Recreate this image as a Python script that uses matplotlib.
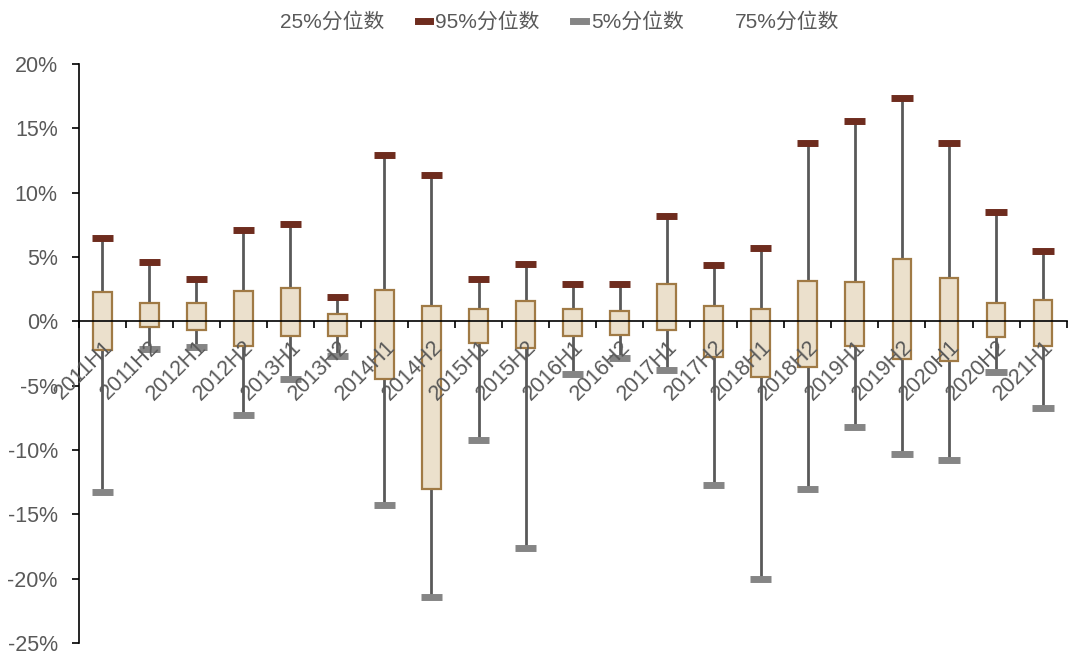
import matplotlib
matplotlib.use("Agg")
import matplotlib.pyplot as plt
from matplotlib.lines import Line2D
from matplotlib.patches import Patch
import numpy as np

plt.rcParams['font.family'] = ['Liberation Sans', 'Noto Sans CJK SC', 'DejaVu Sans']

periods = ['2011H1', '2011H2', '2012H1', '2012H2', '2013H1', '2013H2', '2014H1',
           '2014H2', '2015H1', '2015H2', '2016H1', '2016H2', '2017H1', '2017H2',
           '2018H1', '2018H2', '2019H1', '2019H2', '2020H1', '2020H2', '2021H1']
p95 = [6.45, 4.64, 3.32, 7.13, 7.57, 1.87, 12.9, 11.4, 3.27, 4.48, 2.93, 2.93,
       8.22, 4.35, 5.73, 13.87, 15.55, 17.37, 13.87, 8.48, 5.47]
p75 = [2.28, 1.42, 1.45, 2.33, 2.59, 0.54, 2.41, 1.19, 0.99, 1.55, 0.93, 0.78,
       2.93, 1.19, 0.99, 3.11, 3.03, 4.87, 3.37, 1.45, 1.66]
p25 = [-2.25, -0.47, -0.65, -1.95, -1.14, -1.14, -4.46, -13.0, -1.66, -2.05, -1.17, -1.04,
       -0.70, -2.75, -4.30, -3.52, -1.92, -2.90, -3.06, -1.24, -1.92]
p5 = [-13.3, -2.13, -2.0, -7.3, -4.5, -2.67, -14.3, -21.4, -9.25, -17.65, -4.07, -2.88,
      -3.81, -12.7, -20.0, -13.0, -8.19, -10.34, -10.8, -3.97, -6.74]

text_c = '#595959'
box_fill = '#EBE0CC'
box_edge = '#A07A45'
whisk_c = '#595959'
c95 = '#6E2C1E'
c5 = '#858585'

fig = plt.figure(figsize=(10.8, 6.63), dpi=100)
ax = fig.add_axes([0.0728, 0.0302, 0.9148, 0.8733])

x = np.arange(len(periods))
bw = 0.4
cap = 0.45

# whiskers
ax.vlines(x, p5, p95, color=whisk_c, lw=2, zorder=2)
# boxes
ax.bar(x, np.array(p75) - np.array(p25), bottom=p25, width=bw,
       color=box_fill, edgecolor=box_edge, linewidth=1.6, zorder=3)
# caps
ax.hlines(p95, x - cap / 2, x + cap / 2, color=c95, lw=5, zorder=4)
ax.hlines(p5, x - cap / 2, x + cap / 2, color=c5, lw=5, zorder=4)

ax.set_xlim(-0.5, len(periods) - 0.5)
ax.set_ylim(-25, 20)
ax.set_yticks(np.arange(-25, 21, 5))
ax.set_yticklabels([f'{v}%' for v in range(-25, 21, 5)])

for s in ['top', 'right']:
    ax.spines[s].set_visible(False)
ax.spines['bottom'].set_position(('data', 0))
ax.spines['left'].set_linewidth(1.2)
ax.spines['bottom'].set_linewidth(1.2)

ax.tick_params(axis='y', colors='black', labelcolor=text_c, labelsize=15.5,
               length=5, width=1.2, pad=10)
ax.set_xticks(x)
ax.set_xticklabels(periods, rotation=45, ha='right', rotation_mode='anchor')
ax.tick_params(axis='x', which='major', length=0, pad=11, labelcolor=text_c, labelsize=15.5)
ax.set_xticks(np.arange(-0.5, len(periods), 1), minor=True)
ax.tick_params(axis='x', which='minor', length=5, width=1.2, color='black', direction='out')
ax.xaxis.set_zorder(6)
ax.spines['bottom'].set_zorder(6)

handles = [Patch(facecolor='none', edgecolor='none'),
           Line2D([], [], color=c95, lw=5),
           Line2D([], [], color=c5, lw=5),
           Patch(facecolor='none', edgecolor='none')]
labels = ['25%分位数', '95%分位数', '5%分位数', '75%分位数']
fig.legend(handles, labels, loc='upper center', bbox_to_anchor=(0.51, 1.01), ncol=4,
           frameon=False, fontsize=15, handlelength=0.6, handletextpad=0.25,
           columnspacing=1.6, labelcolor=text_c)

fig.savefig('out.png', dpi=100)
